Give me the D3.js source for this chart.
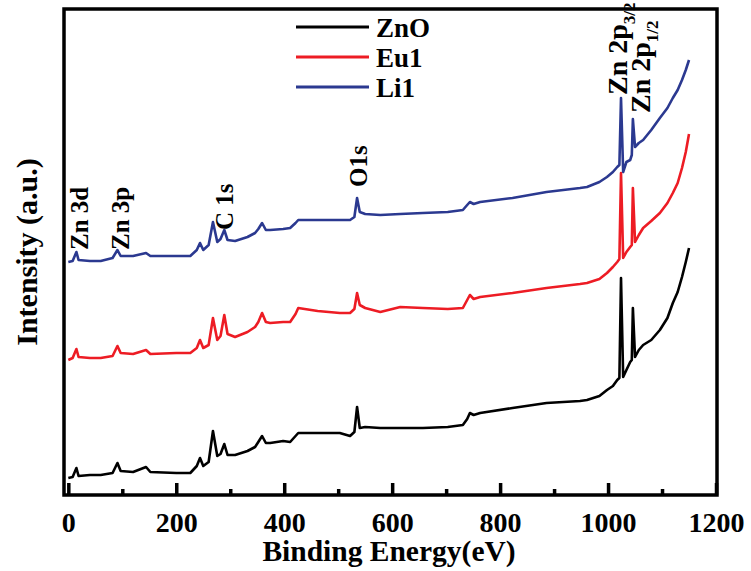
<!DOCTYPE html>
<html>
<head>
<meta charset="utf-8">
<script src="https://cdn.jsdelivr.net/npm/d3@7"></script>
<style>
  html, body { margin: 0; padding: 0; background: #fff; }
  svg { display: block; }
  text { font-family: "Liberation Serif", "Times New Roman", serif; fill: #000; }
</style>
</head>
<body>
<svg id="chart" width="751" height="571"></svg>
<script>
// Binding energy (eV) sample positions
const energy = [0, 8, 15, 19, 40, 60, 82, 91, 97, 120, 144, 152, 200, 226, 238, 244, 250, 260, 268, 276,
  282, 289, 295, 309, 332, 346, 352, 359, 366, 374, 398, 411, 421, 426, 462, 503, 522, 530, 535, 540,
  550, 578, 615, 657, 703, 731, 739, 744, 751, 763, 823, 886, 948, 961, 984, 998, 1009, 1017, 1021, 1024,
  1028, 1034, 1041, 1044, 1046, 1050, 1057, 1065, 1080, 1096, 1110, 1120, 1129, 1137, 1144, 1150];

// Intensities (a.u., offset traces)
const znO = [17, 18, 27, 19, 20, 20, 22, 32, 24, 23, 28, 23, 22, 22, 29, 37, 29, 33, 64, 39,
  41, 51, 40, 40, 44, 48, 53, 59, 52, 52, 54, 53, 59, 62, 62, 62, 59, 63, 88, 67,
  68, 67, 67, 67, 68, 70, 76, 82, 80, 82, 87, 92, 94, 95, 99, 105, 109, 115, 117, 217,
  118, 125, 133, 135, 187, 138, 145, 150, 155, 165, 177, 192, 203, 218, 233, 247];

const eu1 = [135, 137, 146, 138, 137, 137, 139, 149, 142, 141, 145, 141, 142, 142, 147, 155, 147, 150, 177, 155,
  159, 180, 161, 158, 163, 168, 173, 182, 173, 172, 173, 173, 181, 187, 184, 182, 182, 186, 202, 190,
  187, 183, 188, 187, 186, 187, 195, 200, 196, 198, 202, 207, 211, 212, 216, 222, 228, 233, 236, 322,
  237, 243, 248, 250, 307, 253, 260, 267, 274, 282, 292, 302, 312, 327, 343, 361];

const li1 = [233, 234, 243, 235, 234, 234, 237, 245, 239, 239, 242, 239, 239, 239, 245, 252, 245, 250, 273, 253,
  256, 265, 255, 254, 258, 262, 266, 272, 265, 265, 266, 267, 272, 275, 275, 275, 275, 278, 297, 283,
  281, 280, 281, 282, 283, 285, 290, 293, 291, 293, 297, 303, 307, 308, 313, 318, 323, 328, 330, 397,
  323, 333, 335, 340, 376, 348, 352, 355, 365, 377, 387, 397, 405, 415, 425, 435];

const seriesNames = ["ZnO", "Eu1", "Li1"];
const seriesColors = ["#000000", "#ed1c24", "#2b3990"];
const majorTicks = [0, 200, 400, 600, 800, 1000, 1200];
const minorTicks = [100, 300, 500, 700, 900, 1100];

// peak annotations
const peakLabels = ["Zn 3d", "Zn 3p", "C 1s", "O1s", "Zn 2p", "Zn 2p"];
const peakSubs = ["", "", "", "", "3/2", "1/2"];

const svg = d3.select("#chart");
const L = 64, R = 717, T = 9, B = 495;

const x = d3.scaleLinear().domain([-8, 1200]).range([L, 716]);
const y = d3.scaleLinear().domain([0, 486]).range([B, T]);

const allSeries = [znO, eu1, li1];
const line = d3.line().x(d => x(d[0])).y(d => y(d[1]));

allSeries.forEach((vals, i) => {
  svg.append("path")
    .datum(energy.map((e, j) => [e, vals[j]]))
    .attr("fill", "none")
    .attr("stroke", seriesColors[i])
    .attr("stroke-width", 2.6)
    .attr("stroke-linejoin", "round")
    .attr("d", line);
});

// frame
svg.append("rect")
  .attr("x", L).attr("y", T).attr("width", R - L).attr("height", B - T)
  .attr("fill", "none").attr("stroke", "#000").attr("stroke-width", 3.5);

// major ticks with labels (inward)
const gx = svg.append("g").attr("transform", `translate(0,${B})`)
  .call(d3.axisBottom(x).tickValues(majorTicks).tickSize(-12).tickSizeOuter(0).tickPadding(17)
    .tickFormat(d3.format("d")));
gx.select(".domain").remove();
gx.selectAll(".tick line").attr("stroke", "#000").attr("stroke-width", 3.5);
gx.selectAll(".tick text").attr("font-size", 28).attr("font-weight", "bold")
  .attr("font-family", "Liberation Serif, Times New Roman, serif");

// minor ticks
const gm = svg.append("g").attr("transform", `translate(0,${B})`)
  .call(d3.axisBottom(x).tickValues(minorTicks).tickSize(-6).tickSizeOuter(0).tickFormat(""));
gm.select(".domain").remove();
gm.selectAll(".tick line").attr("stroke", "#000").attr("stroke-width", 3.5);

// axis titles
svg.append("text").attr("x", 389).attr("y", 561).attr("text-anchor", "middle")
  .attr("font-size", 29.5).attr("font-weight", "bold").text("Binding Energy(eV)");
svg.append("text").attr("transform", "translate(37,252) rotate(-90)").attr("text-anchor", "middle")
  .attr("font-size", 30).attr("font-weight", "bold").text("Intensity (a.u.)");

// legend
const legY = [27, 57, 87];
seriesNames.forEach((n, i) => {
  svg.append("line").attr("x1", 296).attr("x2", 369).attr("y1", legY[i]).attr("y2", legY[i])
    .attr("stroke", seriesColors[i]).attr("stroke-width", 3);
  svg.append("text").attr("x", 376).attr("y", legY[i] + 10)
    .attr("font-size", 27).attr("font-weight", "bold").text(n);
});

// peak labels (rotated)
const labX = [88, 129, 233, 367, 627, 650];
const labY = [250, 250, 230, 187, 95, 113];
const labSize = [25, 25, 25, 25, 28, 28];
peakLabels.forEach((t, i) => {
  const tx = svg.append("text")
    .attr("transform", `translate(${labX[i]},${labY[i]}) rotate(-90)`)
    .attr("font-size", labSize[i])
    .attr("font-weight", "bold")
    .text(t);
  if (peakSubs[i]) {
    tx.append("tspan").attr("dy", 8).attr("font-size", 17).text(peakSubs[i]);
  }
});
</script>
</body>
</html>
